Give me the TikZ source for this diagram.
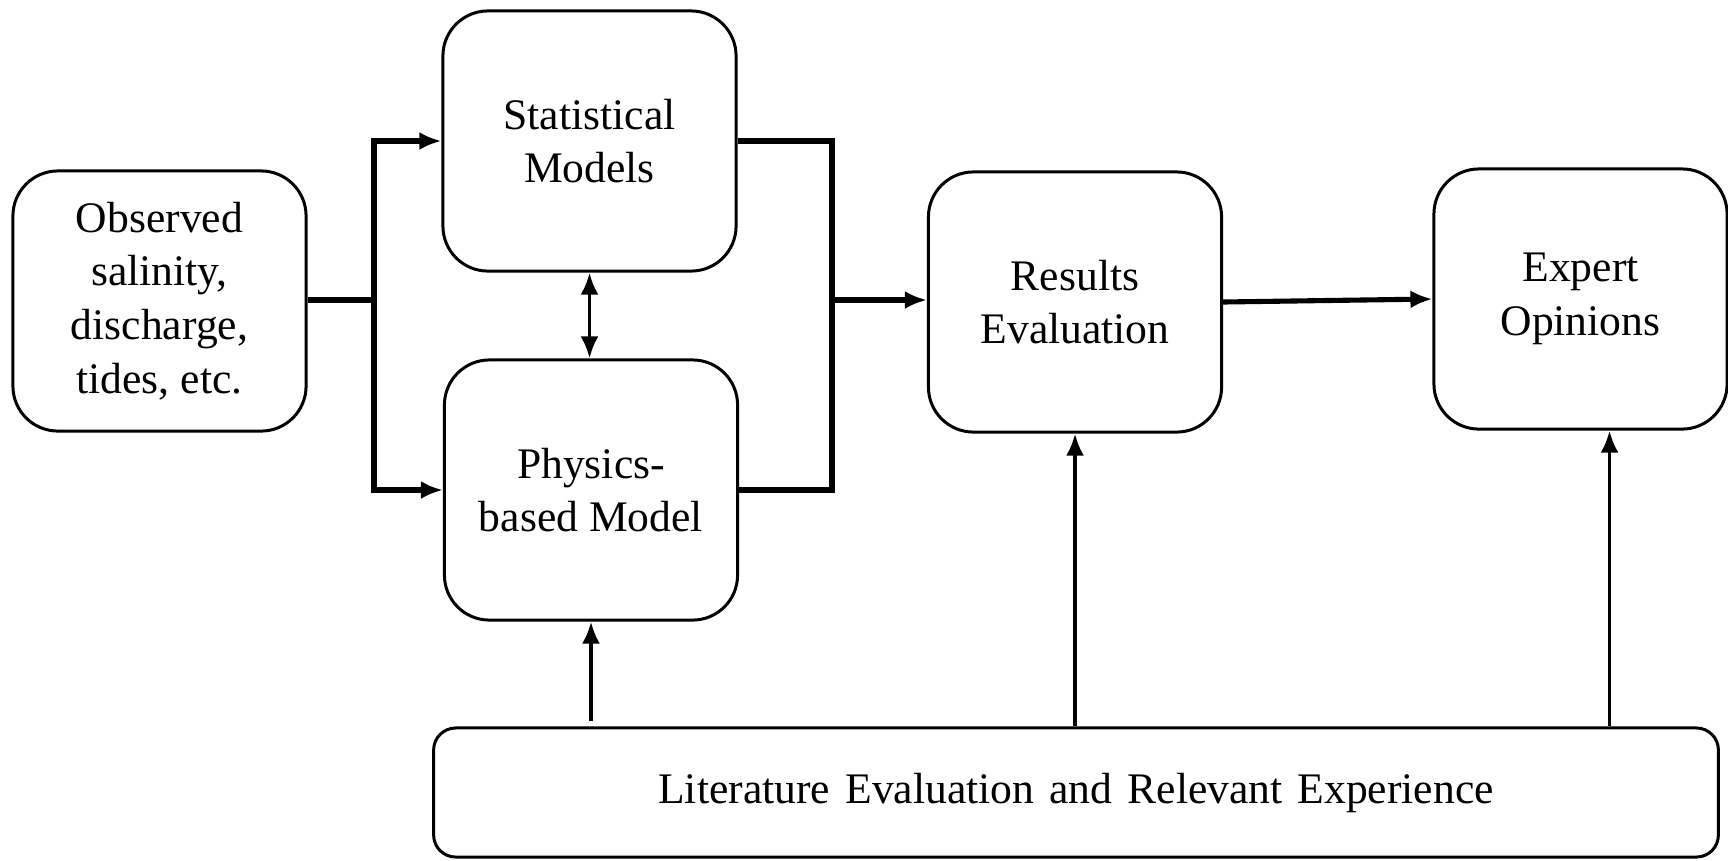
\documentclass[tikz,border=0pt]{standalone}
\usepackage{fontspec}
\setmainfont{Liberation Serif}
\usetikzlibrary{arrows.meta, positioning}

\tikzset{
  blok/.style={draw, line width=0.85pt, rounded corners=0.45cm,
    minimum width=2.93cm, minimum height=2.6cm, inner sep=0pt,
    align=center, font=\fontsize{12.4}{15.3}\selectfont},
  veza/.style={line width=1.45pt},
  tanka/.style={line width=1.1pt},
  strelica/.style={-{Latex[length=0.22cm,width=0.18cm]}},
}

\begin{document}
\begin{tikzpicture}[x=0.01cm, y=-0.01cm]
\useasboundingbox (0,0) rectangle (1728,860);

%blokovi
    %ulaz
	\node[blok] (obs) at (159.5,301) {Observed\\salinity,\\discharge,\\tides, etc.};

    %modeli
	\node[blok] (stat) at (589.5,141) {Statistical\\Models};
	\node[blok] (phys) at (591,490) {Physics-\\based Model};

    %rezultati
	\node[blok] (res) at (1075,302) {Results\\Evaluation};
	\node[blok] (exp) at (1580.5,299) {Expert\\Opinions};

    %literatura
	\node[blok, minimum width=12.84cm, minimum height=1.29cm,
	      rounded corners=0.22cm] (lit) at (1076,792.5)
	      {Literature\hspace{1.2pt} Evaluation\hspace{1.2pt} and\hspace{1.2pt} Relevant\hspace{1.2pt} Experience};

%veze
	\coordinate (jl) at (374,300);
	\coordinate (jr) at (832,300);
	\draw[veza] (obs.east |- jl) -- (jl);
	\draw[veza, strelica] (jl) |- (stat.west);
	\draw[veza, strelica] (jl) |- (phys.west);
	\draw[veza] (stat.east) -| (jr);
	\draw[veza] (phys.east) -| (jr);
	\draw[veza, strelica] (jr) -- (jr -| res.west);
	\draw[veza, strelica] (res.east) -- (exp.west);

	\draw[tanka, {Latex[length=0.22cm,width=0.18cm]}-{Latex[length=0.22cm,width=0.18cm]}]
	      (stat.south) -- (stat.south |- phys.north);

%strelice od literature
	\coordinate (expin) at ([xshift=0.29cm]exp.south);
	\draw[tanka, strelica] ([yshift=0.05cm]phys.south |- lit.north) -- (phys.south);
	\draw[tanka, strelica] (res.south |- lit.north) -- (res.south);
	\draw[tanka, strelica] (expin |- lit.north) -- (expin);
\end{tikzpicture}
\end{document}
